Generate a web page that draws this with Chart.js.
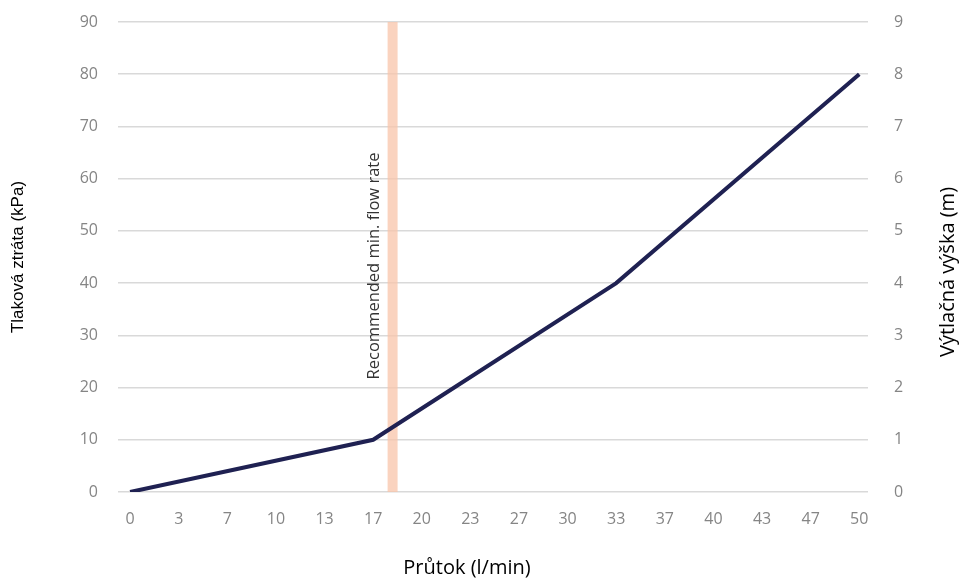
<!DOCTYPE html>
<html>
<head>
<meta charset="utf-8">
<script src="https://cdn.jsdelivr.net/npm/chart.js@4/dist/chart.umd.min.js"></script>
<style>
  html, body { margin: 0; padding: 0; background: #fff; }
  #wrap { width: 960px; height: 579px; }
</style>
</head>
<body>
<div id="wrap"><canvas id="flowChart" width="960" height="579"></canvas></div>
<script>
// Chart data
const flowPoints = [0, 50 / 3, 100 / 3, 50];            // l/min
const pressureLoss = [0, 10, 40, 80];                    // kPa
const xTickValues = [0, 10/3, 20/3, 10, 40/3, 50/3, 20, 70/3, 80/3, 30, 100/3, 110/3, 40, 130/3, 140/3, 50];
const xTickLabels = ['0', '3', '7', '10', '13', '17', '20', '23', '27', '30', '33', '37', '40', '43', '47', '50'];
const minFlowRate = [18];
const bandLabel = 'Recommended min. flow rate';
const xTitle = 'Průtok (l/min)';
const y2Title = 'Výtlačná výška (m)';

const tickColor = '#858585';
const gridColor = '#d9d9d9';
const tickFont = { family: '"Open Sans", sans-serif', size: 16 };

// Vertical band for recommended min. flow rate + axis titles
const bandPlugin = {
    id: 'minFlowBand',
    beforeDatasetsDraw(chart) {
        const ctx = chart.ctx;
        const x = chart.scales.x.getPixelForValue(minFlowRate[0]);
        const area = chart.chartArea;
        ctx.save();
        ctx.fillStyle = 'rgba(248, 196, 170, 0.75)';
        ctx.fillRect(x - 5, area.top, 10, area.bottom - area.top);
        ctx.translate(x - 18, 266);
        ctx.rotate(-Math.PI / 2);
        ctx.fillStyle = '#333';
        ctx.font = '16.5px "Open Sans", sans-serif';
        ctx.textAlign = 'center';
        ctx.textBaseline = 'middle';
        ctx.fillText(bandLabel, 0, 0);
        ctx.restore();
    },
    afterDraw(chart) {
        const ctx = chart.ctx;
        ctx.save();
        ctx.fillStyle = '#000';
        ctx.font = '20px "Open Sans", sans-serif';
        ctx.textAlign = 'center';
        ctx.textBaseline = 'middle';
        ctx.fillText(xTitle, 467, 568);
        ctx.translate(948, 272);
        ctx.rotate(-Math.PI / 2);
        ctx.fillText(y2Title, 0, 0);
        ctx.restore();
    }
};

// keep the plot area where the reference has it
function fixVertical(width) {
    return s => {
        s.width = width;
        s.paddingTop = 0;
        s.paddingBottom = 0;
    };
}

function createFlowChart() {
    const ctx = document.getElementById('flowChart').getContext('2d');
    new Chart(ctx, {
        type: 'line',
        data: {
            datasets: [{
                label: 'Tlaková ztráta',
                data: flowPoints.map((x, i) => ({ x: x, y: pressureLoss[i] })),
                borderColor: '#1f2152',
                borderWidth: 4,
                pointRadius: 0,
                tension: 0,
                yAxisID: 'y'
            }]
        },
        options: {
            responsive: false,
            animation: false,
            layout: { padding: { top: 22, left: 0, right: 0, bottom: 0 } },
            plugins: {
                legend: { display: false },
                tooltip: { enabled: false }
            },
            scales: {
                x: {
                    type: 'linear',
                    min: -0.83,
                    max: 50.6,
                    afterBuildTicks: s => { s.ticks = xTickValues.map(v => ({ value: v })); },
                    afterFit: s => { s.height = 87; s.paddingLeft = 0; s.paddingRight = 0; },
                    grid: { display: false },
                    border: { display: false },
                    ticks: {
                        color: tickColor,
                        font: tickFont,
                        padding: 10,
                        maxRotation: 0,
                        autoSkip: false,
                        callback: (v, i) => xTickLabels[i]
                    }
                },
                y: {
                    position: 'left',
                    min: 0,
                    max: 90,
                    afterFit: fixVertical(118),
                    grid: { color: gridColor, lineWidth: 1.5, drawTicks: false },
                    border: { display: false },
                    ticks: {
                        stepSize: 10,
                        color: tickColor,
                        font: tickFont,
                        padding: 20
                    },
                    title: {
                        display: true,
                        text: 'Tlaková ztráta (kPa)',
                        color: '#000',
                        font: { family: '"Liberation Sans", Arial, sans-serif', size: 17 },
                        padding: { top: 8, bottom: 0 }
                    }
                },
                y2: {
                    position: 'right',
                    min: 0,
                    max: 9,
                    afterFit: fixVertical(92),
                    grid: { display: false },
                    border: { display: false },
                    ticks: {
                        stepSize: 1,
                        color: tickColor,
                        font: tickFont,
                        padding: 18
                    }
                }
            }
        },
        plugins: [bandPlugin]
    });
}

window.onload = function() {
    createFlowChart();
};
</script>
</body>
</html>
